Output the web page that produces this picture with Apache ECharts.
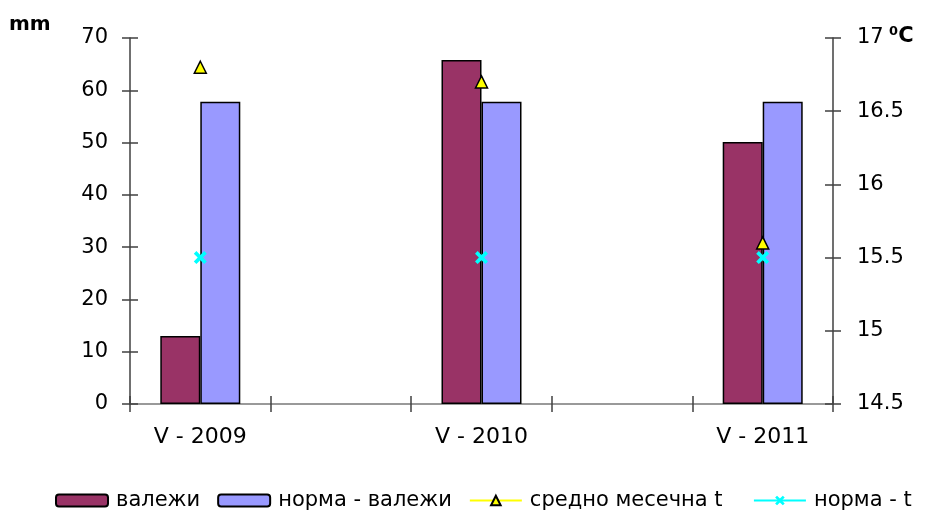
<!DOCTYPE html>
<html>
<head>
<meta charset="utf-8">
<script src="https://cdn.jsdelivr.net/npm/echarts@6/dist/echarts.min.js"></script>
<style>
  html, body { margin: 0; padding: 0; background: #fff; }
  #chart { width: 936px; height: 511px; }
</style>
</head>
<body>
<div id="chart"></div>
<script>
// Months on the x axis; empty slots keep the wide spacing between years
const categories = ['V - 2009', '', 'V - 2010', '', 'V - 2011'];

// Precipitation, mm
const valezhi = [13, null, 65.8, null, 50.1];
const normaValezhi = [57.8, null, 57.8, null, 57.8];

// Temperature, °C
const srednoT = [16.8, null, 16.7, null, 15.6];
const normaT = [15.5, null, 15.5, null, 15.5];

// Axis scales
const mmAxis = { min: 0, max: 70, interval: 10 };
const tAxis = { min: 14.5, max: 17, interval: 0.5 };

const font = '"DejaVu Sans", sans-serif';
const axisColor = '#404040';
const crossPath = 'path://M0,2 L2,0 L5,3 L8,0 L10,2 L7,5 L10,8 L8,10 L5,7 L2,10 L0,8 L3,5 Z';

// Extra tick-only axes so tick marks cross the axis lines
function innerTicksY(scale, position) {
  return {
    type: 'value', position: position,
    min: scale.min, max: scale.max, interval: scale.interval,
    axisLine: { show: false },
    axisTick: { show: true, inside: true, length: 8, lineStyle: { color: axisColor, width: 1.5 } },
    axisLabel: { show: false },
    splitLine: { show: false }
  };
}

const chart = echarts.init(document.getElementById('chart'), null, { renderer: 'canvas' });

chart.setOption({
  animation: false,
  backgroundColor: '#ffffff',
  textStyle: { fontFamily: font, color: '#000' },
  grid: { left: 130, right: 103, top: 38, bottom: 107, containLabel: false },
  graphic: [
    { type: 'text', left: 9, top: 15, style: { text: 'mm', font: 'bold 20px ' + font, fill: '#000' } },
    { type: 'text', left: 889, top: 26, style: { text: '⁰C', font: 'bold 21px ' + font, fill: '#000' } }
  ],
  legend: {
    top: 490,
    left: 55,
    padding: 0,
    itemWidth: 52,
    itemHeight: 12,
    itemGap: 17,
    formatter: function (name) {
      return name === 'средно месечна t' ? name + '  ' : name;
    },
    textStyle: { fontFamily: font, fontSize: 21, color: '#000', padding: [0, 0, 0, 3] },
    data: ['валежи', 'норма - валежи', 'средно месечна t', 'норма - t']
  },
  xAxis: [
    {
      type: 'category',
      data: categories,
      boundaryGap: true,
      axisLine: { lineStyle: { color: '#5a5a5a', width: 1.5 } },
      axisTick: { show: true, interval: 0, length: 8, lineStyle: { color: axisColor, width: 1.5 } },
      axisLabel: { interval: 0, fontSize: 22, color: '#000', margin: 22, fontFamily: font },
      splitLine: { show: false }
    },
    {
      type: 'category',
      data: categories,
      position: 'top',
      axisLine: { lineStyle: { color: '#999', width: 2 } },
      axisTick: { show: false },
      axisLabel: { show: false }
    },
    {
      type: 'category',
      data: categories,
      position: 'bottom',
      axisLine: { show: false },
      axisTick: { show: true, inside: true, interval: 0, length: 8, lineStyle: { color: axisColor, width: 1.5 } },
      axisLabel: { show: false }
    }
  ],
  yAxis: [
    {
      type: 'value',
      min: mmAxis.min, max: mmAxis.max, interval: mmAxis.interval,
      axisLine: { show: true, lineStyle: { color: axisColor, width: 1.5 } },
      axisTick: { show: true, length: 8, lineStyle: { color: axisColor, width: 1.5 } },
      axisLabel: { fontSize: 21, color: '#000', margin: 22, fontFamily: font },
      splitLine: { show: false }
    },
    {
      type: 'value',
      position: 'right',
      min: tAxis.min, max: tAxis.max, interval: tAxis.interval,
      axisLine: { show: true, lineStyle: { color: axisColor, width: 1.5 } },
      axisTick: { show: true, length: 8, lineStyle: { color: axisColor, width: 1.5 } },
      axisLabel: { fontSize: 21, color: '#000', margin: 24, fontFamily: font },
      splitLine: { show: false }
    },
    innerTicksY(mmAxis, 'left'),
    innerTicksY(tAxis, 'right')
  ],
  series: [
    {
      name: 'валежи',
      type: 'bar',
      data: valezhi,
      barWidth: 40,
      barGap: '0%',
      itemStyle: { color: '#993366', borderColor: '#000', borderWidth: 1.5 }
    },
    {
      name: 'норма - валежи',
      type: 'bar',
      data: normaValezhi,
      barWidth: 40,
      barGap: '0%',
      itemStyle: { color: '#9999ff', borderColor: '#000', borderWidth: 1.5 }
    },
    {
      name: 'средно месечна t',
      type: 'line',
      yAxisIndex: 1,
      data: srednoT,
      connectNulls: false,
      symbol: 'triangle',
      symbolSize: 12,
      lineStyle: { color: '#ffff00', width: 1.5 },
      itemStyle: { color: '#ffff00', borderColor: '#000', borderWidth: 1.5 },
      z: 5
    },
    {
      name: 'норма - t',
      type: 'line',
      yAxisIndex: 1,
      data: normaT,
      connectNulls: false,
      symbol: crossPath,
      symbolSize: 13,
      lineStyle: { color: '#00ffff', width: 1.5 },
      itemStyle: { color: '#00ffff', borderWidth: 0 },
      z: 5
    }
  ]
});
</script>
</body>
</html>
